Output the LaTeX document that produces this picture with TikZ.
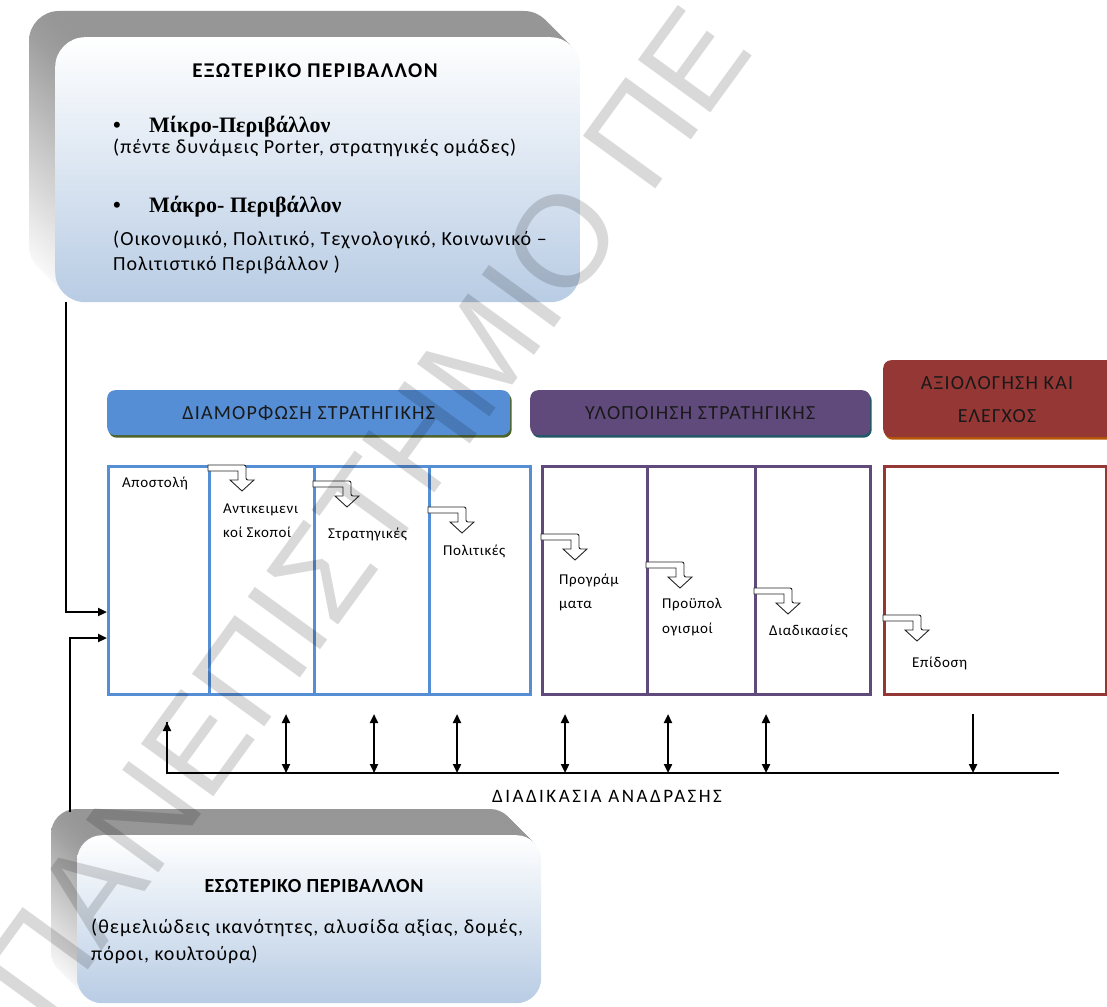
\documentclass[tikz,border=0pt]{standalone}
\usepackage{fontspec}
\setmainfont{Carlito}
\newfontfamily\boldserif{Liberation Serif}[BoldFont={Liberation Serif Bold}]
\newfontfamily\markfont{Liberation Sans}
\usetikzlibrary{arrows.meta,shadows}

\definecolor{formblue}{RGB}{85,142,213}
\definecolor{formshadow}{RGB}{79,98,40}
\definecolor{implpurple}{RGB}{96,74,123}
\definecolor{implshadow}{RGB}{33,89,104}
\definecolor{evalred}{RGB}{149,55,53}
\definecolor{evalshadow}{RGB}{182,87,8}
\definecolor{envblue}{RGB}{184,204,228}
\definecolor{bevelgray}{RGB}{150,150,150}

\newcommand\spaced[1]{\addfontfeature{LetterSpace=#1}}

\tikzset{
  conn/.style={line width=2.2pt, draw=black},
  tipend/.style={-{Triangle[length=9pt,width=8pt]}},
  tipboth/.style={{Triangle[length=9pt,width=8pt]}-{Triangle[length=9pt,width=8pt]}},
  headbar/.style={rounded corners=8pt, minimum height=45pt, anchor=north west,
    inner sep=0pt, text=black!90, font=\fontsize{20}{24}\selectfont\spaced{6}},
  headtext/.style={anchor=base, inner sep=0pt, text=black!90,
    font=\fontsize{20}{24}\selectfont\spaced{6}},
  cell/.style={draw, line width=3pt, minimum height=228pt, inner sep=0pt, anchor=north west},
  celltext/.style={anchor=base west, inner sep=0pt, font=\fontsize{15}{18}\selectfont\spaced{4}},
  envtext/.style={anchor=base west, inner sep=0pt, font=\fontsize{20}{24}\selectfont\spaced{5}},
  envtitle/.style={anchor=base, inner sep=0pt, font=\bfseries\fontsize{20}{24}\selectfont},
  bullethead/.style={anchor=base west, inner sep=0pt, font=\boldserif\bfseries\fontsize{22}{26}\selectfont},
  bentarrow/.pic={
    \draw[line width=0.9pt, draw=black!85, fill=white]
      (0,0) -- (36,0) [rounded corners=2pt] -- (38,0) -- (38,15) [sharp corners] -- (46,15) -- (34,26)
      -- (22,15) -- (30,15) -- (30,6) -- (0,6) -- cycle;
  }
}

\begin{document}
\begin{tikzpicture}[x=1pt,y=-1pt]
\useasboundingbox (0,0) rectangle (1107,1006);

% ---------- external environment: bevelled box ----------
\foreach \i in {26,24,...,2}{
  \shade[top color=bevelgray, bottom color=white, rounded corners=30pt]
    (55-\i,37-\i) rectangle (580-\i,302-\i);
}
\node[top color=white, bottom color=envblue, rounded corners=30pt,
      minimum width=525pt, minimum height=265pt, inner sep=0pt, anchor=north west]
      (ext) at (55,37) {};
\node[envtitle, font=\bfseries\fontsize{21}{24}\selectfont\spaced{7}] (exttitle) at (315,78) {ΕΞΩΤΕΡΙΚΟ ΠΕΡΙΒΑΛΛΟΝ};
\node[bullethead] (microb) at (113,132) {•};
\node[bullethead] (micro) at (149,132) {Μίκρο-Περιβάλλον};
\node[envtext] (microtxt) at (113,153) {(πέντε δυνάμεις Porter, στρατηγικές ομάδες)};
\node[bullethead] (macrob) at (113,212) {•};
\node[bullethead] (macro) at (149,212) {Μάκρο- Περιβάλλον};
\node[envtext] (macrotxt1) at (113,245) {(Οικονομικό, Πολιτικό, Τεχνολογικό, Κοινωνικό –};
\node[envtext] (macrotxt2) at (113,270) {Πολιτιστικό Περιβάλλον )};

% ---------- internal environment: bevelled box ----------
\foreach \i in {26,24,...,2}{
  \shade[top color=bevelgray, bottom color=white, rounded corners=25pt]
    (77-\i,835-\i) rectangle (541-\i,1003-\i);
}
\node[top color=white, bottom color=envblue, rounded corners=25pt,
      minimum width=464pt, minimum height=168pt, inner sep=0pt, anchor=north west]
      (int) at (77,835) {};
\node[envtitle, font=\bfseries\fontsize{20}{24}\selectfont\spaced{3}] (inttitle) at (314,892) {ΕΣΩΤΕΡΙΚΟ ΠΕΡΙΒΑΛΛΟΝ};
\node[envtext] (inttxt1) at (91,933) {(θεμελιώδεις ικανότητες, αλυσίδα αξίας, δομές,};
\node[envtext] (inttxt2) at (91,960) {πόροι, κουλτούρα)};

% ---------- phase headers ----------
\node[headbar, fill=formblue, minimum width=403pt,
      drop shadow={shadow xshift=1.5pt, shadow yshift=-2.5pt, fill=formshadow, opacity=1}]
      (formhead) at (107,390) {ΔΙΑΜΟΡΦΩΣΗ ΣΤΡΑΤΗΓΙΚΗΣ};
\node[headbar, fill=implpurple, minimum width=340pt,
      drop shadow={shadow xshift=1.5pt, shadow yshift=-2.5pt, fill=implshadow, opacity=1}]
      (implhead) at (530,390) {ΥΛΟΠΟΙΗΣΗ ΣΤΡΑΤΗΓΙΚΗΣ};
\node[headbar, fill=evalred, minimum width=240pt, minimum height=77pt,
      drop shadow={shadow xshift=1.5pt, shadow yshift=-2.5pt, fill=evalshadow, opacity=1}]
      (evalhead) at (883,360) {};
\node[headtext] (evaltxt1) at (997,389) {ΑΞΙΟΛΟΓΗΣΗ ΚΑΙ};
\node[headtext] (evaltxt2) at (997,422) {ΕΛΕΓΧΟΣ};

% ---------- phase cells ----------
\node[cell, draw=formblue, minimum width=101pt] (c1) at (107,465) {};
\node[cell, draw=formblue, minimum width=105pt] (c2) at (208,465) {};
\node[cell, draw=formblue, minimum width=115pt] (c3) at (313,465) {};
\node[cell, draw=formblue, minimum width=101pt] (c4) at (428,465) {};
\node[cell, draw=implpurple, minimum width=105pt] (c5) at (541,465) {};
\node[cell, draw=implpurple, minimum width=108pt] (c6) at (646,465) {};
\node[cell, draw=implpurple, minimum width=115pt] (c7) at (754,465) {};
\node[cell, draw=evalred, minimum width=222pt] (c8) at (883,465) {};

% step arrows between cells
\pic at (208,465) {bentarrow};
\pic at (313,481) {bentarrow};
\pic at (428,507) {bentarrow};
\pic at (541,534) {bentarrow};
\pic at (646,562) {bentarrow};
\pic at (754,588) {bentarrow};
\pic at (883,615) {bentarrow};

% cell labels
\node[celltext] (t1) at (122,487) {Αποστολή};
\node[celltext] (t2a) at (223,513) {Αντικειμενι};
\node[celltext] (t2b) at (223,537) {κοί Σκοποί};
\node[celltext] (t3) at (328,538) {Στρατηγικές};
\node[celltext] (t4) at (443,555) {Πολιτικές};
\node[celltext] (t5a) at (559,584) {Προγράμ};
\node[celltext] (t5b) at (559,608) {ματα};
\node[celltext] (t6a) at (662,608) {Προϋπολ};
\node[celltext] (t6b) at (662,633) {ογισμοί};
\node[celltext] (t7) at (769,635) {Διαδικασίες};
\node[celltext] (t8) at (912,667) {Επίδοση};

% ---------- inputs from the environments ----------
\coordinate (extout) at (66,302);
\coordinate (intout) at (70,812);
\coordinate (in1) at (107,612);
\coordinate (in2) at (107,638);
\draw[conn, tipend] (extout) |- (in1);
\draw[conn, tipend] (intout) |- (in2);

% ---------- feedback loop ----------
\coordinate (fbstart) at (167,773);
\coordinate (fbend) at (1059,773);
\coordinate (fbup) at (167,722);
\draw[conn] (fbup) -- (fbstart) -- (fbend);
\draw[conn, tipend] (fbstart) -- (fbup);
\foreach \x [count=\k] in {286,374,457,565,668,766}{
  \coordinate (fbt\k) at (\x,714);
  \coordinate (fbb\k) at (\x,773);
  \draw[conn, tipboth] (fbt\k) -- (fbb\k);
}
\coordinate (evt) at (973,714);
\coordinate (evb) at (973,773);
\draw[conn, tipend] (evt) -- (evb);
\node[anchor=base, inner sep=0pt, font=\fontsize{19}{22}\selectfont\spaced{13}]
      (fblabel) at (607,802) {ΔΙΑΔΙΚΑΣΙΑ ΑΝΑΔΡΑΣΗΣ};

% ---------- watermark ----------
\begin{scope}
\clip (0,0) rectangle (1107,1006);
\node[anchor=base west, inner sep=0pt, rotate=54, text=black, text opacity=0.15,
      font=\markfont\fontsize{130}{130}\selectfont] (mark) at (46,1028) {ΠΑΝΕΠΙΣΤΗΜΙΟ ΠΕ};
\end{scope}
\end{tikzpicture}
\end{document}
